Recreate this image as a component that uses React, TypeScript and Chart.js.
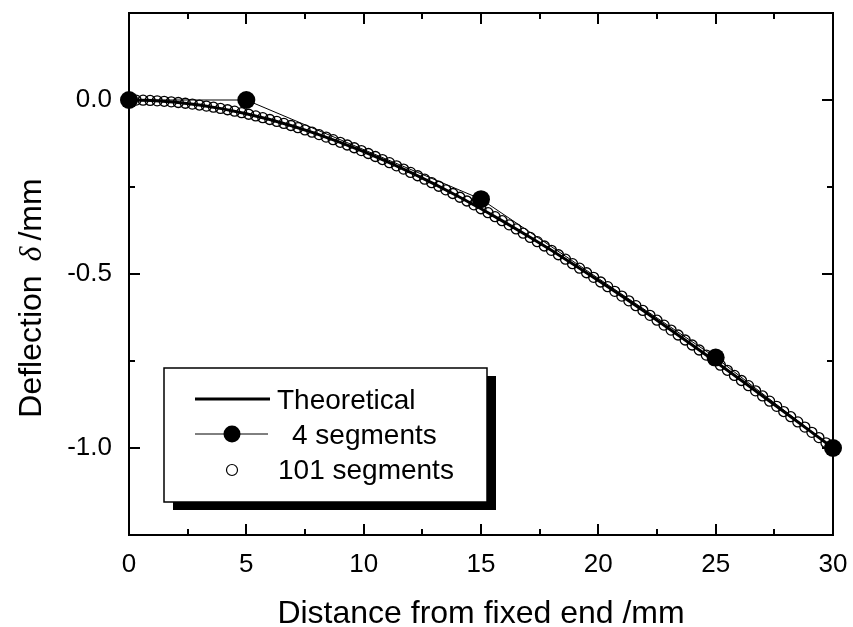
import React, { useEffect, useRef } from "react";
import { Chart, registerables } from "chart.js";

Chart.register(...registerables);

// ---- Data ----
const positions101 = [
  0, 0.3, 0.6, 0.9, 1.2, 1.5, 1.8, 2.1, 2.4, 2.7, 3.0, 3.3, 3.6, 3.9, 4.2, 4.5, 4.8,
  5.1, 5.4, 5.7, 6.0, 6.3, 6.6, 6.9, 7.2, 7.5, 7.8, 8.1, 8.4, 8.7, 9.0, 9.3, 9.6, 9.9,
  10.2, 10.5, 10.8, 11.1, 11.4, 11.7, 12.0, 12.3, 12.6, 12.9, 13.2, 13.5, 13.8, 14.1,
  14.4, 14.7, 15.0, 15.3, 15.6, 15.9, 16.2, 16.5, 16.8, 17.1, 17.4, 17.7, 18.0, 18.3,
  18.6, 18.9, 19.2, 19.5, 19.8, 20.1, 20.4, 20.7, 21.0, 21.3, 21.6, 21.9, 22.2, 22.5,
  22.8, 23.1, 23.4, 23.7, 24.0, 24.3, 24.6, 24.9, 25.2, 25.5, 25.8, 26.1, 26.4, 26.7,
  27.0, 27.3, 27.6, 27.9, 28.2, 28.5, 28.8, 29.1, 29.4, 29.7, 30.0,
];
const deflection101 = [
  0, -0.0002, -0.0006, -0.0013, -0.0024, -0.0037, -0.0053, -0.0072, -0.0093, -0.0118,
  -0.0145, -0.0175, -0.0207, -0.0243, -0.028, -0.0321, -0.0364, -0.0409, -0.0457,
  -0.0507, -0.056, -0.0615, -0.0673, -0.0733, -0.0795, -0.0859, -0.0926, -0.0995,
  -0.1066, -0.114, -0.1215, -0.1293, -0.1372, -0.1454, -0.1537, -0.1623, -0.1711,
  -0.18, -0.1892, -0.1985, -0.208, -0.2177, -0.2276, -0.2376, -0.2478, -0.2582,
  -0.2687, -0.2794, -0.2903, -0.3013, -0.3125, -0.3238, -0.3353, -0.3469, -0.3587,
  -0.3706, -0.3826, -0.3948, -0.407, -0.4195, -0.432, -0.4447, -0.4574, -0.4703,
  -0.4833, -0.4964, -0.5096, -0.523, -0.5364, -0.5499, -0.5635, -0.5772, -0.591,
  -0.6048, -0.6188, -0.6328, -0.6469, -0.6611, -0.6753, -0.6896, -0.704, -0.7184,
  -0.7329, -0.7475, -0.762, -0.7767, -0.7914, -0.8061, -0.8209, -0.8357, -0.8505,
  -0.8654, -0.8803, -0.8952, -0.9101, -0.9251, -0.94, -0.955, -0.97, -0.985, -1.0,
];
const theoreticalPositions = [
  0, 1, 2, 3, 4, 5, 6, 7, 8, 9, 10, 11, 12, 13, 14, 15, 16, 17, 18, 19, 20, 21, 22, 23,
  24, 25, 26, 27, 28, 29, 30,
];
const theoreticalDeflection = [
  0, -0.0016, -0.0065, -0.0145, -0.0255, -0.0394, -0.056, -0.0753, -0.0972, -0.1215,
  -0.1481, -0.177, -0.208, -0.241, -0.2759, -0.3125, -0.3508, -0.3907, -0.432, -0.4746,
  -0.5185, -0.5635, -0.6095, -0.6564, -0.704, -0.7523, -0.8012, -0.8505, -0.9001,
  -0.95, -1.0,
];
const segPositions4 = [0, 5, 15, 25, 30];
const segDeflection4 = [0, 0, -0.285, -0.74, -1.0];

const seriesLabels = ["Theoretical", "4 segments", "101 segments"];
const xTitle = "Distance from fixed end /mm";
const yTitleWord = "Deflection";
const yTitleSymbol = "δ";
const yTitleUnit = "/mm";

const X_MIN = 0;
const X_MAX = 30;
const X_STEP = 2.5;
const X_MAJOR = 5;
const Y_MIN = -1.25;
const Y_MAX = 0.25;
const Y_STEP = 0.25;
const Y_MAJOR = 0.5;

const SANS = '"Liberation Sans", Arial, Helvetica, sans-serif';
const SERIF = '"Liberation Serif", "Times New Roman", serif';

const isMultiple = (v: number, step: number) =>
  Math.abs(v / step - Math.round(v / step)) < 1e-6;

const zip = (xs: number[], ys: number[]) => xs.map((x, i) => ({ x, y: ys[i] }));

const decorPlugin = {
  id: "decor",
  beforeDatasetsDraw(chart: any) {
    const { ctx, chartArea: a, scales } = chart;
    const xs = scales.x;
    const ys = scales.y;
    ctx.save();
    ctx.strokeStyle = "#000";
    ctx.lineWidth = 2;
    ctx.lineCap = "butt";
    ctx.strokeRect(a.left, a.top, a.right - a.left, a.bottom - a.top);
    ctx.beginPath();
    xs.ticks.forEach((t: any) => {
      const px = Math.round(xs.getPixelForValue(t.value));
      const len = isMultiple(t.value, X_MAJOR) ? 11 : 6;
      ctx.moveTo(px, a.bottom);
      ctx.lineTo(px, a.bottom - len);
      ctx.moveTo(px, a.top);
      ctx.lineTo(px, a.top + len);
    });
    ys.ticks.forEach((t: any) => {
      const py = Math.round(ys.getPixelForValue(t.value));
      const len = isMultiple(t.value, Y_MAJOR) ? 11 : 6;
      ctx.moveTo(a.left, py);
      ctx.lineTo(a.left + len, py);
      ctx.moveTo(a.right, py);
      ctx.lineTo(a.right - len, py);
    });
    ctx.stroke();
    ctx.restore();
  },
  afterDraw(chart: any) {
    const { ctx } = chart;
    ctx.save();
    // ---- Legend box with shadow ----
    const bx = 164, by = 368, bw = 323, bh = 134;
    ctx.fillStyle = "#000";
    ctx.fillRect(bx + 9, by + 8, bw, bh);
    ctx.fillStyle = "#fff";
    ctx.fillRect(bx, by, bw, bh);
    ctx.strokeStyle = "#000";
    ctx.lineWidth = 1.5;
    ctx.strokeRect(bx, by, bw, bh);

    ctx.font = `28px ${SANS}`;
    ctx.textBaseline = "middle";
    ctx.textAlign = "left";
    ctx.fillStyle = "#000";

    // Row 1: theoretical line
    ctx.lineWidth = 3;
    ctx.beginPath();
    ctx.moveTo(195, 399);
    ctx.lineTo(270, 399);
    ctx.stroke();
    ctx.fillText(seriesLabels[0], 277, 401);

    // Row 2: 4 segments
    ctx.lineWidth = 1;
    ctx.beginPath();
    ctx.moveTo(195, 434);
    ctx.lineTo(268, 434);
    ctx.stroke();
    ctx.beginPath();
    ctx.arc(232, 434, 8.5, 0, Math.PI * 2);
    ctx.fill();
    ctx.fillText(seriesLabels[1], 292, 436);

    // Row 3: 101 segments
    ctx.beginPath();
    ctx.arc(232, 470, 5.5, 0, Math.PI * 2);
    ctx.lineWidth = 1.2;
    ctx.stroke();
    ctx.fillText(seriesLabels[2], 278, 471);

    // ---- Y axis title (mixed fonts) ----
    const cx = 41;
    const cy = 298;
    ctx.translate(cx, cy);
    ctx.rotate(-Math.PI / 2);
    ctx.textBaseline = "alphabetic";
    ctx.font = `32px ${SANS}`;
    const w1 = ctx.measureText(yTitleWord).width;
    const w3 = ctx.measureText(yTitleUnit).width;
    ctx.font = `italic 32px ${SERIF}`;
    const w2 = ctx.measureText(yTitleSymbol).width;
    const g1 = 14, g2 = 6;
    const total = w1 + g1 + w2 + g2 + w3;
    let p = -total / 2;
    ctx.font = `32px ${SANS}`;
    ctx.fillText(yTitleWord, p, 0);
    p += w1 + g1;
    ctx.font = `italic 32px ${SERIF}`;
    ctx.fillText(yTitleSymbol, p, 0);
    p += w2 + g2;
    ctx.font = `32px ${SANS}`;
    ctx.fillText(yTitleUnit, p, 0);
    ctx.restore();
  },
};

export default function App() {
  const canvasRef = useRef<HTMLCanvasElement | null>(null);

  useEffect(() => {
    const canvas = canvasRef.current;
    if (!canvas) return;
    const chart = new Chart(canvas, {
      type: "scatter",
      data: {
        datasets: [
          {
            label: seriesLabels[1],
            data: zip(segPositions4, segDeflection4),
            showLine: true,
            borderColor: "#000",
            borderWidth: 1,
            backgroundColor: "#000",
            pointRadius: 9,
            pointBorderWidth: 0,
            pointBackgroundColor: "#000",
            clip: false,
            order: 0,
          } as any,
          {
            label: seriesLabels[0],
            data: zip(theoreticalPositions, theoreticalDeflection),
            showLine: true,
            borderColor: "#000",
            borderWidth: 3,
            pointRadius: 0,
            clip: false,
            order: 1,
          } as any,
          {
            label: seriesLabels[2],
            data: zip(positions101, deflection101),
            showLine: false,
            pointRadius: 5,
            pointBorderWidth: 1.3,
            pointBorderColor: "#000",
            pointBackgroundColor: "rgba(255,255,255,0)",
            clip: false,
            order: 2,
          } as any,
        ],
      },
      options: {
        animation: false,
        responsive: false,
        devicePixelRatio: 1,
        events: [],
        layout: { padding: { left: 0, top: 13, right: 20, bottom: 0 } },
        plugins: {
          legend: { display: false },
          tooltip: { enabled: false },
        },
        scales: {
          x: {
            type: "linear",
            min: X_MIN,
            max: X_MAX,
            grid: { display: false, drawTicks: false },
            border: { display: false },
            ticks: {
              stepSize: X_STEP,
              autoSkip: false,
              maxRotation: 0,
              padding: 14,
              color: "#000",
              font: { family: SANS, size: 26 },
              callback: (v: any) => (isMultiple(Number(v), X_MAJOR) ? String(Number(v)) : ""),
            },
            title: {
              display: true,
              text: xTitle,
              color: "#000",
              font: { family: SANS, size: 32, lineHeight: 1 },
              padding: { top: 0, bottom: -3 },
            },
            afterFit: (s: any) => {
              s.height = 92;
              s.paddingLeft = 0;
              s.paddingRight = 0;
            },
          },
          y: {
            type: "linear",
            min: Y_MIN,
            max: Y_MAX,
            grid: { display: false, drawTicks: false },
            border: { display: false },
            ticks: {
              stepSize: Y_STEP,
              autoSkip: false,
              padding: 17,
              color: "#000",
              font: { family: SANS, size: 26 },
              callback: (v: any) => (isMultiple(Number(v), Y_MAJOR) ? Number(v).toFixed(1) : ""),
            },
            afterFit: (s: any) => {
              s.width = 129;
              s.paddingTop = 0;
              s.paddingBottom = 0;
            },
          },
        },
      },
      plugins: [decorPlugin],
    });
    return () => chart.destroy();
  }, []);

  return (
    <div style={{ position: "fixed", left: 0, top: 0, width: 853, height: 627, background: "#fff" }}>
      <canvas ref={canvasRef} width={853} height={627} />
    </div>
  );
}
